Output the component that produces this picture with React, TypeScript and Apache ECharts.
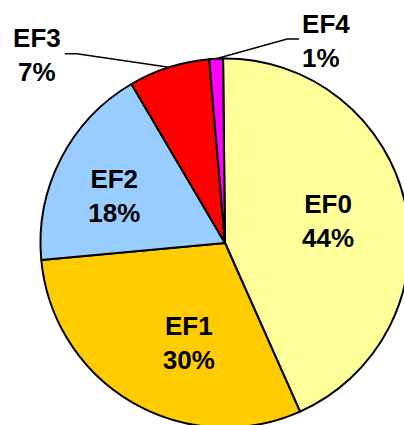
import React, { useEffect, useRef } from "react";
import * as echarts from "echarts";

const categories = ["EF0", "EF1", "EF2", "EF3", "EF4"];
const values = [43.5, 30.2, 18.0, 7.1, 1.2];
const colors = ["#FFFF99", "#FFCC00", "#99CCFF", "#FF0000", "#FF00FF"];
const outsideLabels = ["EF3", "EF4"];

export default function App() {
  const ref = useRef<HTMLDivElement>(null);
  useEffect(() => {
    const chart = echarts.init(ref.current!, null, { renderer: "svg" });
    const innerShift: Record<number, [number, number]> = {
      0: [10, -2],
      1: [12, 18],
      2: [-26, -4],
    };
    chart.setOption({
      animation: false,
      backgroundColor: "#ffffff",
      series: [
        {
          type: "pie",
          center: [225, 243],
          radius: 184.5,
          startAngle: 90.6,
          clockwise: true,
          avoidLabelOverlap: false,
          emphasis: { disabled: true },
          itemStyle: { borderColor: "#000000", borderWidth: 2 },
          label: {
            show: true,
            formatter: (p: any) => `${p.name}\n${Math.round(p.percent)}%`,
            fontFamily: "'Liberation Sans', Arial, sans-serif",
            fontWeight: "bold",
            fontSize: 26,
            lineHeight: 34,
            color: "#000000",
          },
          labelLine: {
            show: true,
            length: 10,
            length2: 10,
            lineStyle: { color: "#000000", width: 1.5 },
          },
          labelLayout: (params: any) => {
            const i = params.dataIndex;
            if (innerShift[i]) {
              return { dx: innerShift[i][0], dy: innerShift[i][1] };
            }
            const pts = params.labelLinePoints;
            if (!pts) return {};
            const p = pts[0];
            if (i === 3) {
              const elbow = [p[0] - 92, p[1] - 13.6];
              const end = [elbow[0] - 12, elbow[1]];
              return {
                x: end[0] - 28,
                y: end[1] + 1.8,
                align: "center",
                verticalAlign: "middle",
                labelLinePoints: [p, elbow, end],
              };
            }
            const elbow = [p[0] + 71, p[1] - 19.6];
            const end = [elbow[0] + 12, elbow[1]];
            return {
              x: end[0] + 3,
              y: end[1] + 1.4,
              align: "left",
              verticalAlign: "middle",
              labelLinePoints: [p, elbow, end],
            };
          },
          data: categories.map((name, i) => ({
            name,
            value: values[i],
            itemStyle: { color: colors[i] },
            label: {
              position: outsideLabels.includes(name) ? "outside" : "inside",
            },
            labelLine: { show: outsideLabels.includes(name) },
          })),
        },
      ],
    });
    return () => chart.dispose();
  }, []);
  return (
    <div
      ref={ref}
      style={{ position: "absolute", left: 0, top: 0, width: 404, height: 425 }}
    />
  );
}
